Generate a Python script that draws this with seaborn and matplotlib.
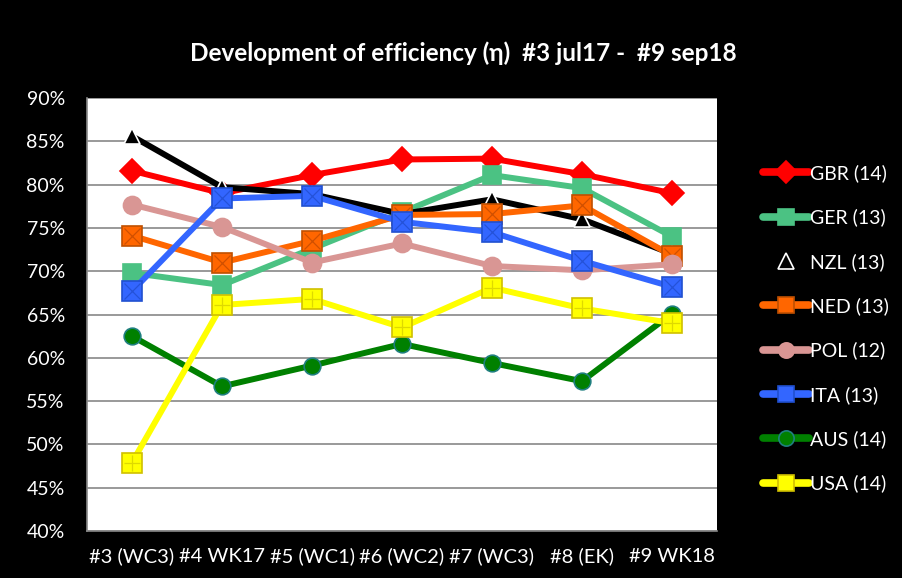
import numpy as np
import pandas as pd
import seaborn as sns
import matplotlib.pyplot as plt

rounds = ['#3 (WC3)', '#4 WK17', '#5 (WC1)', '#6 (WC2)', '#7 (WC3)', '#8 (EK)', '#9 WK18']
teams = ['GBR (14)', 'GER (13)', 'NZL (13)', 'NED (13)', 'POL (12)', 'ITA (13)', 'AUS (14)', 'USA (14)']

gbr = [81.6, 79.0, 81.1, 82.9, 83.0, 81.2, 79.0]
ger = [69.8, 68.4, 72.6, 76.8, 81.1, 79.6, 74.0]
nzl = [85.6, 79.7, 78.9, 76.6, 78.3, 76.0, 72.0]
ned = [74.1, 71.0, 73.5, 76.5, 76.6, 77.6, 71.8]
pol = [77.7, 75.1, 71.0, 73.2, 70.6, 70.1, 70.8]
ita = [67.7, 78.4, 78.7, 75.7, 74.5, 71.2, 68.2]
aus = [62.5, 56.7, 59.1, 61.6, 59.4, 57.3, 65.1]
usa = [47.9, 66.1, 66.8, 63.5, 68.1, 65.7, 64.0]

values = [gbr, ger, nzl, ned, pol, ita, aus, usa]

colors = ['#FF0000', '#4BC283', '#000000', '#FF6600', '#D99694', '#3366FF', '#008000', '#FFFF00']
markers = ['D', 's', '^', 's', 'o', 's', 'o', 's']
edges = ['#FF0000', '#4BC283', '#FFFFFF', '#C05000', '#D99694', '#2050D0', '#1F7F7F', '#D0C000']
inner = [None, None, None, 'x', None, 'x', None, '+']
inner_col = [None, None, None, '#B04000', None, '#1A46C0', None, '#C8C000']
msizes = [12, 13, 11, 14, 13, 14, 12, 14]

rows = []
for t, v in zip(teams, values):
    for i, r in enumerate(rounds):
        rows.append({'team': t, 'pos': i, 'round': r, 'eff': v[i]})
df = pd.DataFrame(rows)

sns.set_style('white')
plt.rcParams['font.family'] = ['Lato', 'DejaVu Sans']

fig = plt.figure(figsize=(9.03, 5.78), dpi=100, facecolor='black')
ax = fig.add_axes([87 / 903, 1 - 531 / 578, 630 / 903, 433 / 578])
ax.set_facecolor('white')

for k, t in enumerate(teams):
    sub = df[df['team'] == t]
    sns.lineplot(data=sub, x='pos', y='eff', ax=ax, color=colors[k], linewidth=4.3,
                 marker=markers[k], markersize=msizes[k], markerfacecolor=colors[k],
                 markeredgecolor=edges[k], markeredgewidth=1.2, label=t, zorder=3 + k)
    if inner[k] is not None:
        ax.plot(sub['pos'], sub['eff'], linestyle='none', marker=inner[k],
                markersize=msizes[k] * 0.8, markeredgecolor=inner_col[k],
                markeredgewidth=0.9, alpha=0.6, zorder=3 + k)

ax.set_xlim(-0.5, 6.5)
ax.set_ylim(40, 90)
ax.set_yticks(np.arange(40, 91, 5))
ax.set_yticklabels([f'{v}%' for v in range(40, 91, 5)])
ax.set_xticks(range(len(rounds)))
ax.set_xticklabels(rounds)
ax.set_xticks(np.arange(-0.5, 7, 1), minor=True)
ax.tick_params(axis='x', which='major', length=0, pad=12, labelsize=14.5, colors='white')
ax.tick_params(axis='x', which='minor', length=6, width=1.2, color='#888888', direction='out')
ax.tick_params(axis='y', length=8, width=1.2, color='#888888', direction='out',
               labelsize=14, labelcolor='white', pad=8)
ax.grid(axis='y', color='#888888', linewidth=1.2)
ax.set_axisbelow(True)
ax.set_xlabel('')
ax.set_ylabel('')
for s in ['left', 'bottom']:
    ax.spines[s].set_color('#888888')
    ax.spines[s].set_linewidth(1.2)
for s in ['top', 'right']:
    ax.spines[s].set_visible(False)

leg = ax.legend(loc='upper left', bbox_to_anchor=(1.06, 0.865), frameon=False,
                fontsize=14, labelcolor='white', handlelength=2.4, handletextpad=0.05,
                labelspacing=1.36, borderaxespad=0)
for h in leg.legend_handles:
    h.set_markersize(11)
    h.set_linewidth(5.5)
    h.set_solid_capstyle('round')

fig.text(463 / 903, 1 - 53 / 578, 'Development of efficiency (η)  #3 jul17 -  #9 sep18',
         color='white', fontsize=17.5, fontweight='bold', ha='center', va='center')

fig.savefig('out.png', dpi=100, facecolor='black')
